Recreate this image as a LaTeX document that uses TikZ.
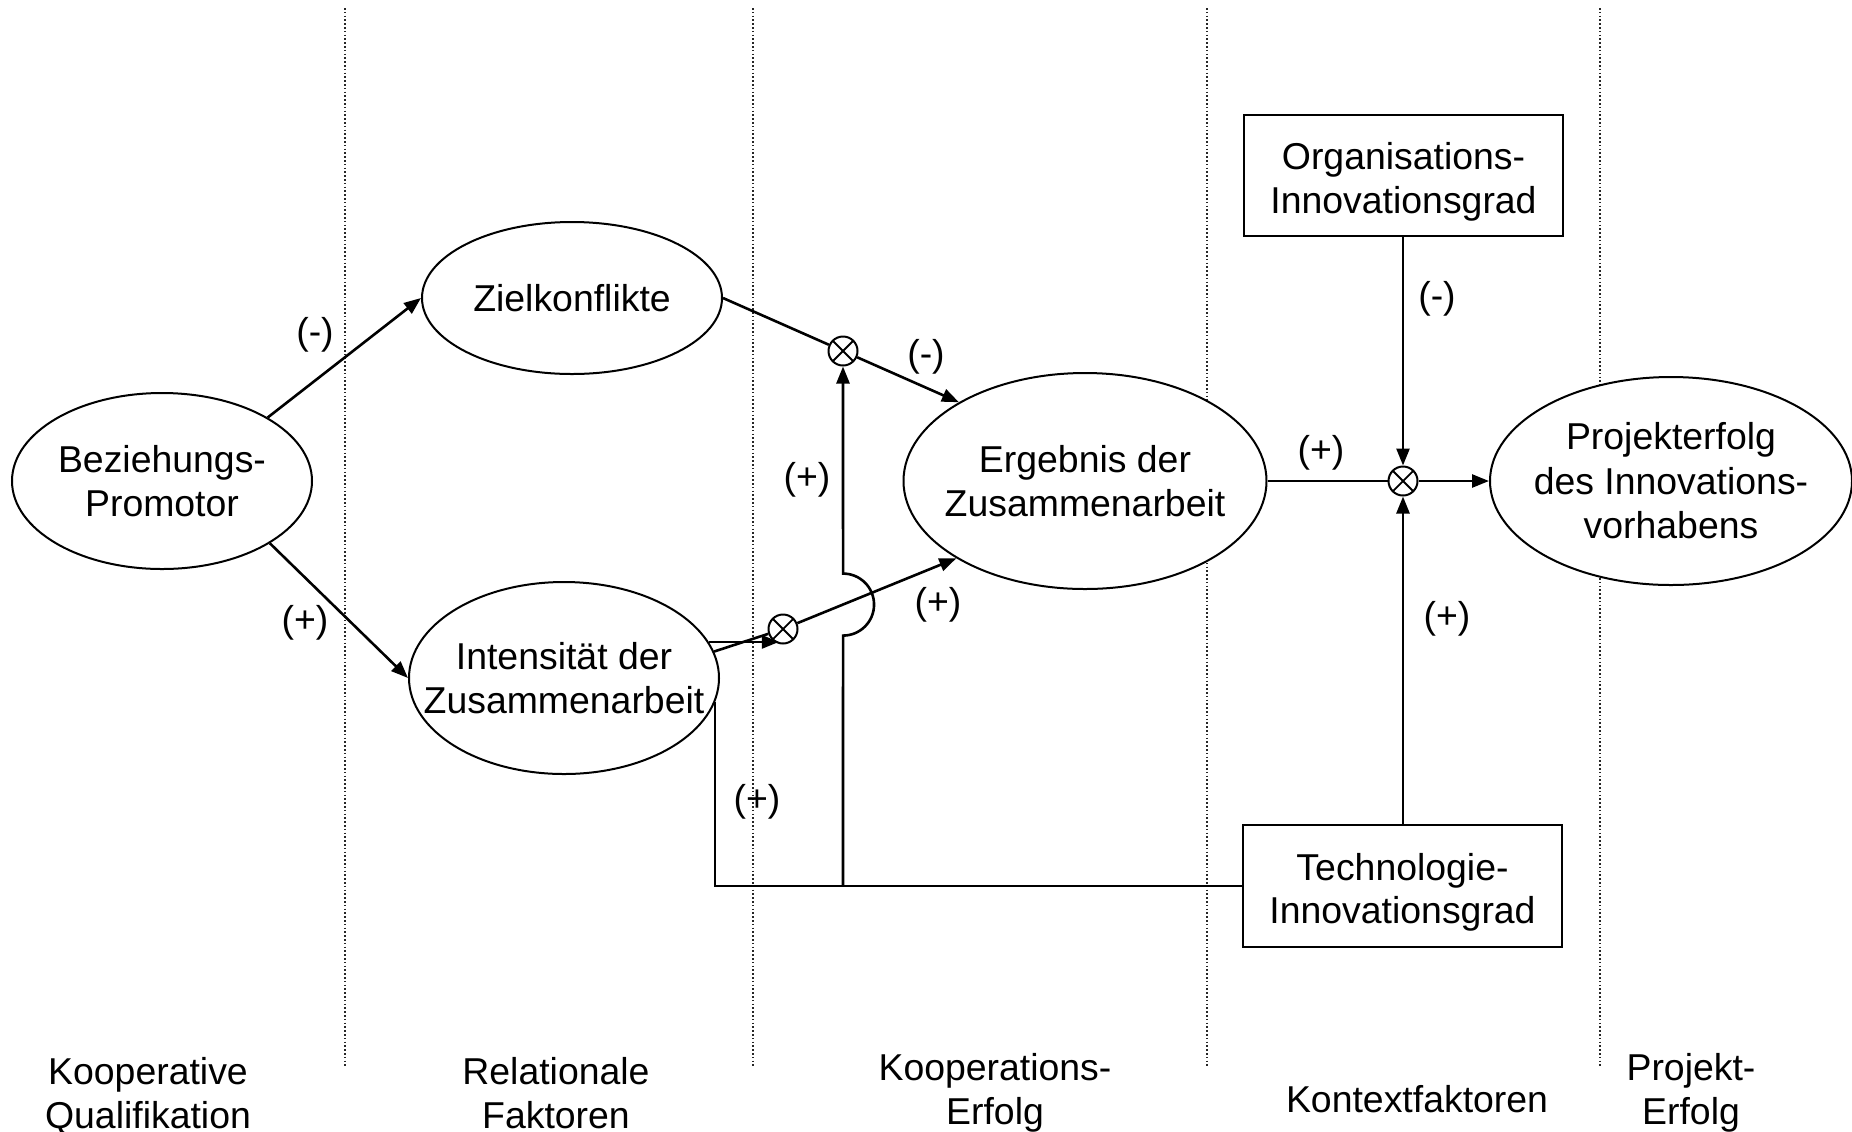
\documentclass[tikz,border=0pt]{standalone}
\usepackage{fontspec}
\setmainfont{Liberation Sans}
\usetikzlibrary{shapes.geometric,arrows.meta,calc}

\tikzset{
  txt/.style={font=\fontsize{18.7pt}{21.8pt}\selectfont, align=center, inner sep=0pt},
  ell/.style={txt, ellipse, draw, line width=1pt, fill=white, inner xsep=-20pt, inner ysep=0pt},
  box/.style={txt, rectangle, draw, line width=1pt, fill=white},
  mult/.style={circle, draw, line width=1pt, fill=white, minimum size=14.5pt, inner sep=0pt,
    path picture={
      \draw[line width=0.9pt] ([shift={(45:7.25pt)}]path picture bounding box.center) -- ([shift={(225:7.25pt)}]path picture bounding box.center);
      \draw[line width=0.9pt] ([shift={(135:7.25pt)}]path picture bounding box.center) -- ([shift={(-45:7.25pt)}]path picture bounding box.center);
    }},
  conn/.style={line width=1.3pt},
  arr/.style={conn, -{Triangle[length=8.5pt,width=6.5pt]}},
  sep/.style={line width=0.75pt, black!85, dash pattern=on 0.8pt off 1.1pt},
  lbl/.style={txt},
  cat/.style={txt, anchor=north}
}
% extra height on the first line pushes box text a little downwards
\newcommand{\boxstrut}{\rule{0pt}{20pt}}

\begin{document}
\begin{tikzpicture}[x=0.5pt,y=-0.5pt]
  \useasboundingbox (0,0) rectangle (1852,1131);

  % column separators
  \foreach \xx in {345,753,1207,1600}
    \draw[sep] (\xx,8) -- (\xx,1067);

  % constructs
  \node[ell, minimum width=150pt, minimum height=88pt] (bp) at (162,481) {Beziehungs-\\Promotor};
  \node[ell, minimum width=150pt, minimum height=76pt] (zk) at (572,298) {Zielkonflikte};
  \node[ell, minimum width=155pt, minimum height=96pt] (iz) at (564,678) {Intensität der\\Zusammenarbeit};
  \node[ell, minimum width=181.5pt, minimum height=108pt] (eg) at (1085,481) {Ergebnis der\\Zusammenarbeit};
  \node[ell, minimum width=181pt, minimum height=104pt, font=\fontsize{18.7pt}{22.3pt}\selectfont] (pe) at (1671,481) {Projekterfolg\\des Innovations-\\vorhabens};
  \node[box, minimum width=159.5pt, minimum height=60.5pt] (og) at (1403.5,175.5) {\boxstrut Organisations-\\Innovationsgrad};
  \node[box, minimum width=159.5pt, minimum height=61pt] (tg) at (1402.5,886) {\boxstrut Technologie-\\Innovationsgrad};

  % interaction points
  \node[mult] (m1) at (843,351) {};
  \node[mult] (m2) at (783,629) {};
  \node[mult] (m3) at (1403,481) {};

  % paths from the promotor
  \draw[arr] (bp.31) -- (zk.west);
  \draw[arr] (bp.-30) -- (iz.west);

  % relational factors into the cooperation result
  \draw[conn] (zk.east) -- (m1);
  \draw[arr] (m1) -- (eg.148);
  \draw[conn] (iz.10) -- (m2);
  \draw[arr] (iz.14) -- (iz.14 -| m2.-105);
  \draw[arr] (m2) -- (eg.211);

  % technology degree of innovation feeding back
  \coordinate (jb) at (m1 |- tg.west);
  \coordinate (e2) at (eg.211);
  \path (intersection of m2--e2 and jb--m1) coordinate (jx);
  \draw[conn] (tg.west) -| (iz.-9);
  \draw[arr] (jb) -- ($(jx)+(0,31)$) arc[start angle=90, end angle=-90, radius=31] -- (m1);

  % context factors into project success
  \draw[conn] (eg.east) -- (m3);
  \draw[arr] (m3) -- (m3 -| pe.west);
  \draw[arr] (og.south -| m3) -- (m3);
  \draw[arr] (tg.north -| m3) -- (m3);

  % signs
  \node[lbl] (s1) at (315,335) {(-)};
  \node[lbl] (s2) at (305,623) {(+)};
  \node[lbl] (s3) at (926,357) {(-)};
  \node[lbl] (s4) at (807,480) {(+)};
  \node[lbl] (s5) at (938,605) {(+)};
  \node[lbl] (s6) at (757,802) {(+)};
  \node[lbl] (s7) at (1321,453) {(+)};
  \node[lbl] (s8) at (1437,299) {(-)};
  \node[lbl] (s9) at (1447,619) {(+)};

  % column headings
  \node[cat] (c1) at (148,1057) {Kooperative\\Qualifikation};
  \node[cat] (c2) at (556,1057) {Relationale\\Faktoren};
  \node[cat] (c3) at (995,1053) {Kooperations-\\Erfolg};
  \node[cat] (c4) at (1417,1085) {Kontextfaktoren};
  \node[cat] (c5) at (1691,1053) {Projekt-\\Erfolg};
\end{tikzpicture}
\end{document}
